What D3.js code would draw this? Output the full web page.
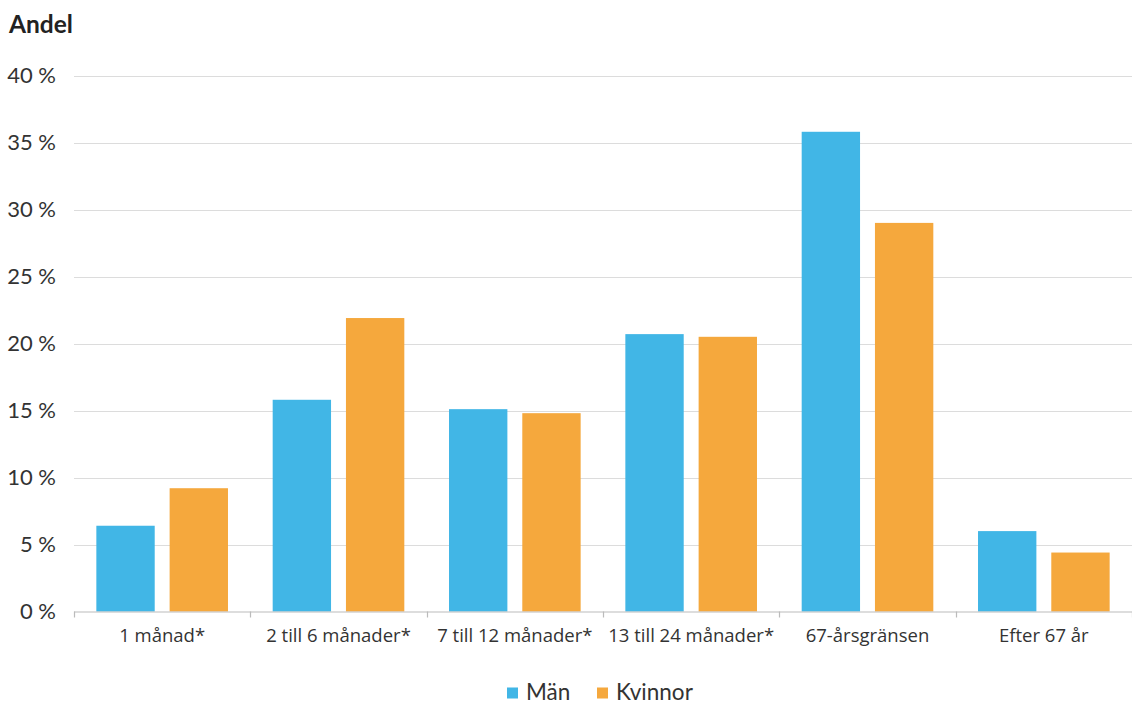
<!DOCTYPE html>
<html><head><meta charset="utf-8">
<script src="https://cdn.jsdelivr.net/npm/d3@7"></script>
<style>body{margin:0;background:#fff}svg{display:block}text{font-family:Lato,"Open Sans",sans-serif}</style>
</head><body>
<svg id="c" width="1132" height="704"></svg>
<script>
const categories = ["1 månad*","2 till 6 månader*","7 till 12 månader*","13 till 24 månader*","67-årsgränsen","Efter 67 år"];
const seriesNames = ["Män","Kvinnor"];
const men = [6.4, 15.8, 15.1, 20.7, 35.8, 6.0];
const women = [9.2, 21.9, 14.8, 20.5, 29.0, 4.4];
const yTicks = [0,5,10,15,20,25,30,35,40];
const colors = ["#41B6E6","#F5A83D"];

const svg = d3.select("#c");
const m = {left:74, right:1132, top:75.5, bottom:611.5};
const x0 = d3.scaleBand().domain(categories).range([m.left, m.right]).padding(0);
const x1 = d3.scaleBand().domain(seriesNames).range([0, x0.bandwidth()]).paddingInner(0.2035).paddingOuter(0.305);
const y = d3.scaleLinear().domain([0,40]).range([m.bottom, m.top]);

// grid
svg.append("g").selectAll("line").data(yTicks.filter(d=>d>0)).join("line")
  .attr("x1", m.left).attr("x2", m.right)
  .attr("y1", d=>Math.round(y(d))+0.5).attr("y2", d=>Math.round(y(d))+0.5)
  .attr("stroke","#dcdcdc").attr("stroke-width",1.2);

// y labels
svg.append("g").selectAll("text").data(yTicks).join("text")
  .attr("x", 56).attr("y", d=>y(d)+7.5).attr("text-anchor","end")
  .attr("font-size",22).attr("fill","#333").attr("font-weight",400)
  .text(d=>d+" %");

svg.append("text").attr("x",9).attr("y",33).attr("font-size",24.5).attr("font-weight",700).attr("fill","#222").text("Andel");

// bars
const data = categories.map((c,i)=>({c, vals:[men[i],women[i]]}));
const g = svg.append("g").selectAll("g").data(data).join("g").attr("transform", d=>`translate(${x0(d.c)},0)`);
g.selectAll("rect").data(d=>d.vals.map((v,j)=>({k:seriesNames[j], v, j}))).join("rect")
  .attr("x", d=>x1(d.k)).attr("width", x1.bandwidth())
  .attr("y", d=>y(d.v)).attr("height", d=>y(0)-y(d.v))
  .attr("fill", d=>colors[d.j]);

// x axis
svg.append("line").attr("x1",m.left).attr("x2",m.right).attr("y1",m.bottom+0.5).attr("y2",m.bottom+0.5).attr("stroke","#bbb").attr("stroke-width",1.2);
const bounds = categories.map(c=>x0(c)).concat([m.right]);
svg.append("g").selectAll("line").data(bounds).join("line")
  .attr("x1", d=>Math.round(d)+0.5).attr("x2", d=>Math.round(d)+0.5)
  .attr("y1", m.bottom).attr("y2", m.bottom+6).attr("stroke","#bbb").attr("stroke-width",1.2);
svg.append("g").selectAll("text").data(categories).join("text")
  .attr("x", d=>x0(d)+x0.bandwidth()/2).attr("y", 642).attr("text-anchor","middle")
  .attr("font-size",18.5).attr("fill","#333").style("font-family","'Open Sans',sans-serif").text(d=>d);

// legend
const leg = svg.append("g");
const legItems = [{n:"Män", x:507},{n:"Kvinnor", x:597}];
legItems.forEach((d,i)=>{
  leg.append("rect").attr("x",d.x).attr("y",687.5).attr("width",11).attr("height",11).attr("fill",colors[i]);
  leg.append("text").attr("x",d.x+19).attr("y",700).attr("font-size",22.5).attr("fill","#333").text(d.n);
});
</script>
</body></html>
